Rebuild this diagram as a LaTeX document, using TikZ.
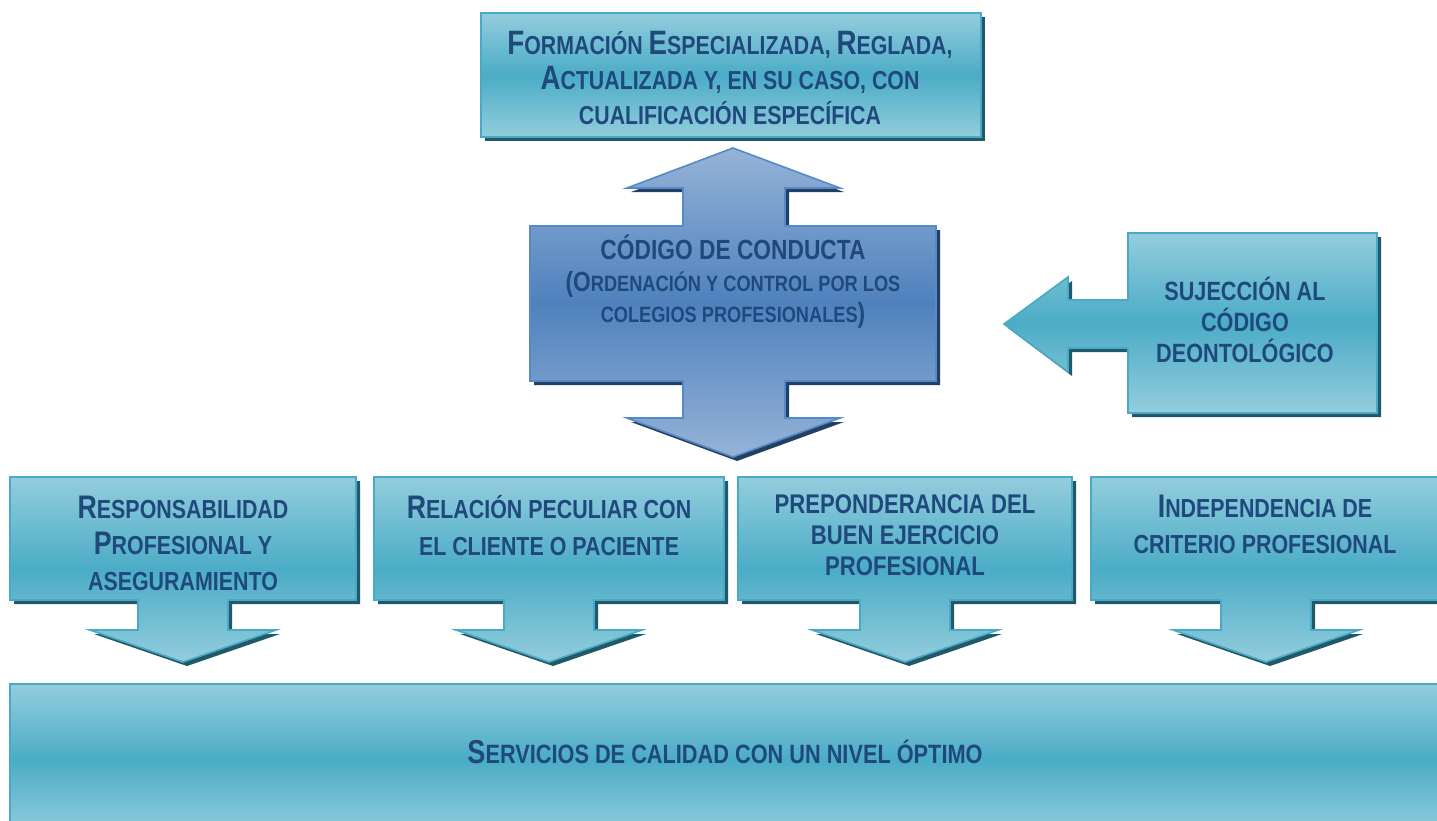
\documentclass[tikz,border=0pt]{standalone}
\usepackage{fontspec}
\usepackage{graphicx}
\newfontfamily\nf{Liberation Sans}[FakeStretch=0.82]
\definecolor{tealL}{RGB}{147,205,221}
\definecolor{tealD}{RGB}{75,172,198}
\definecolor{tealE}{RGB}{72,170,198}
\definecolor{tealS}{RGB}{33,89,104}
\definecolor{blueL}{RGB}{149,179,215}
\definecolor{blueD}{RGB}{79,129,189}
\definecolor{blueE}{RGB}{84,138,202}
\definecolor{blueS}{RGB}{36,64,97}
\definecolor{txtc}{RGB}{31,73,125}
\newcommand\Bg[1]{\scalebox{1.25}{#1}}
\newcommand\Bt[1]{\scalebox{1.3}{#1}}
\tikzset{
  tshape/.style={draw=tealE, line width=1.6pt, line join=miter, top color=tealL, bottom color=tealL, middle color=tealD},
  tshadow/.style={fill=tealS, draw=none},
  bshape/.style={draw=blueE, line width=1.6pt, line join=miter, top color=blueL, bottom color=blueL, middle color=blueD},
  bshadow/.style={fill=blueS, draw=none},
  txt/.style={text=txtc, align=center, inner sep=0pt},
}
\newcommand\DownBox[3]{%
  \path[tshadow, shift={(4,4)}] (#1,477) -- (#2,477) -- (#2,600) -- ({#3+45},600) -- ({#3+45},630) -- ({#3+93},630) -- (#3,662) -- ({#3-93},630) -- ({#3-45},630) -- ({#3-45},600) -- (#1,600) -- cycle;
  \path[tshape] (#1,477) -- (#2,477) -- (#2,600) -- ({#3+45},600) -- ({#3+45},630) -- ({#3+93},630) -- (#3,662) -- ({#3-93},630) -- ({#3-45},630) -- ({#3-45},600) -- (#1,600) -- cycle;}
\newcommand\CenterPath{(530,226) -- (683,226) -- (683,188) -- (627,188) -- (733,148) -- (840,188) -- (785,188) -- (785,226) -- (936,226) -- (936,381) -- (785,381) -- (785,418) -- (840,418) -- (733,457) -- (627,418) -- (683,418) -- (683,381) -- (530,381) -- cycle}
\newcommand\RightPath{(1128,233) -- (1377,233) -- (1377,413) -- (1128,413) -- (1128,348) -- (1068,348) -- (1068,372) -- (1004,324) -- (1068,277) -- (1068,300) -- (1128,300) -- cycle}
\begin{document}
\begin{tikzpicture}[x=1pt, y={(0pt,-1pt)}]
\useasboundingbox (0,0) rectangle (1437,820);
\clip (0,0) rectangle (1437,820);
\fill[white] (0,0) rectangle (1437,820);
% top box
\path[tshadow, shift={(4,4)}] (481,13) rectangle (981,137);
\path[tshape] (481,13) rectangle (981,137);
\node[txt, font={\nf\bfseries\fontsize{26}{35}\selectfont}] (formacion) at (730,78)
  {\Bt{F}ORMACIÓN \Bt{E}SPECIALIZADA, \Bt{R}EGLADA,\\ \Bt{A}CTUALIZADA Y, EN SU CASO, CON\\ CUALIFICACIÓN ESPECÍFICA};
% center callout
\path[bshadow, shift={(4,4)}] \CenterPath;
\path[bshape] \CenterPath;
\node[txt, font={\nf\bfseries\fontsize{22.2}{31.5}\selectfont}] (codigo) at (733,282)
  {\Bg{CÓDIGO DE CONDUCTA}\\ \Bg{(O}RDENACIÓN Y CONTROL POR LOS\\ COLEGIOS PROFESIONALES\Bg{)}};
% right callout
\path[tshadow, shift={(4,4)}] \RightPath;
\path[tshape] \RightPath;
\node[txt, font={\nf\bfseries\fontsize{26.4}{31}\selectfont}] (sujeccion) at (1245,319.5)
  {SUJECCIÓN AL\\ CÓDIGO\\ DEONTOLÓGICO};
% bottom row
\DownBox{10}{356}{183}
\DownBox{374}{724}{549}
\DownBox{738}{1072}{905}
\DownBox{1091}{1441}{1266}
\node[txt, font={\nf\bfseries\fontsize{26.1}{36}\selectfont}] (resp) at (183,543.5)
  {\Bg{R}ESPONSABILIDAD\\ \Bg{P}ROFESIONAL Y\\ ASEGURAMIENTO};
\node[txt, font={\nf\bfseries\fontsize{26.1}{37}\selectfont}] (relacion) at (549,525.5)
  {\Bg{R}ELACIÓN PECULIAR CON\\ EL CLIENTE O PACIENTE};
\node[txt, font={\nf\bfseries\fontsize{27}{31}\selectfont}] (prepond) at (905,535)
  {PREPONDERANCIA DEL\\ BUEN EJERCICIO\\ PROFESIONAL};
\node[txt, font={\nf\bfseries\fontsize{26.1}{36}\selectfont}] (indep) at (1265,524.5)
  {\Bg{I}NDEPENDENCIA DE\\ CRITERIO PROFESIONAL};
% bottom big box
\path[tshape] (10,684) rectangle (1441,835);
\node[txt, font={\nf\bfseries\fontsize{26.5}{32}\selectfont}] (servicios) at (725,751.5)
  {\Bg{S}ERVICIOS DE CALIDAD CON UN NIVEL ÓPTIMO};
\end{tikzpicture}
\end{document}
